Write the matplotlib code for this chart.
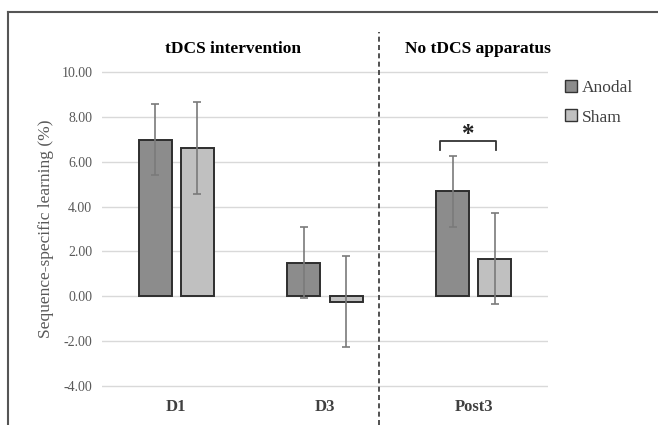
import numpy as np
import matplotlib
matplotlib.use('Agg')
import matplotlib.pyplot as plt
from matplotlib.lines import Line2D

plt.rcParams['font.family'] = ['Liberation Serif', 'DejaVu Serif']

# Data
categories = ['D1', 'D3', 'Post3']
anodal = [6.98, 1.50, 4.67]
anodal_err = [1.58, 1.58, 1.58]
sham = [6.60, -0.24, 1.68]
sham_err = [2.04, 2.03, 2.04]
yticks = [-4, -2, 0, 2, 4, 6, 8, 10]

anodal_color = '#8c8c8c'
sham_color = '#c0c0c0'

fig = plt.figure(figsize=(6.58, 4.25), dpi=100)
# plot area: y=10 at 72px, y=-4 at 386px; small margin so the outer gridlines show
ax = fig.add_axes([102 / 658, 1 - 388.2 / 425, 446 / 658, 318.5 / 425])

x = np.arange(len(categories))
w = 0.222
off = 0.142
err_kw = dict(ecolor='#7a7a7a', elinewidth=1.2, capsize=3, capthick=1.2)
ax.bar(x - off, anodal, w, color=anodal_color, edgecolor='#2e2e2e', linewidth=1.4,
       yerr=anodal_err, error_kw=err_kw, zorder=3)
ax.bar(x + off, sham, w, color=sham_color, edgecolor='#2e2e2e', linewidth=1.4,
       yerr=sham_err, error_kw=err_kw, zorder=3)

ax.set_xlim(-0.5, 2.5)
ax.set_ylim(-4.1, 10.1)
ax.set_yticks(yticks)
ax.set_yticklabels(['%.2f' % v for v in yticks])
ax.yaxis.grid(True, color='#d9d9d9', linewidth=1)
ax.set_axisbelow(True)
for s in ax.spines.values():
    s.set_visible(False)
ax.tick_params(axis='y', length=0, pad=7, labelsize=10, labelcolor='#595959')
ax.set_xticks([])

for i, c in enumerate(categories):
    ax.text(i, -0.058, c, transform=ax.get_xaxis_transform(), ha='center', va='center',
            fontsize=12, fontweight='bold', color='#404040')

ax.set_ylabel('Sequence-specific learning (%)', fontsize=12.5, color='#595959', labelpad=5)

# significance bracket
bx0, bx1, by = 1.773, 2.15, 6.93
ax.plot([bx0, bx0, bx1, bx1], [6.52, by, by, 6.52], color='#333333', lw=1.3, zorder=4)
ax.text((bx0 + bx1) / 2, 6.7, '*', ha='center', va='bottom', fontsize=18,
        fontweight='bold', color='#222222')

# dashed divider
ax.axvline(1.363, ymin=-0.116, ymax=1.118, color='#333333', lw=1.2,
           linestyle=(0, (3, 2)), clip_on=False)

# panel titles
fig.text(233 / 658, 1 - 49 / 425, 'tDCS intervention', ha='center', va='center',
         fontsize=12.5, fontweight='bold')
fig.text(478 / 658, 1 - 49 / 425, 'No tDCS apparatus', ha='center', va='center',
         fontsize=12.5, fontweight='bold')

# legend
handles = [Line2D([], [], marker='s', linestyle='none', markersize=8,
                  markerfacecolor=anodal_color, markeredgecolor='#333333'),
           Line2D([], [], marker='s', linestyle='none', markersize=8,
                  markerfacecolor=sham_color, markeredgecolor='#333333')]
fig.legend(handles, ['Anodal', 'Sham'], loc='upper left',
           bbox_to_anchor=(556 / 658, 1 - 71.5 / 425), frameon=False,
           fontsize=12.5, handlelength=0.7, handletextpad=0.3, labelspacing=0.75,
           borderpad=0, labelcolor='#404040')

# outer border (top and left only)
fig.add_artist(Line2D([8 / 658, 1], [1 - 12 / 425, 1 - 12 / 425],
                      transform=fig.transFigure, color='#555555', lw=1.5))
fig.add_artist(Line2D([8 / 658, 8 / 658], [0, 1 - 12 / 425],
                      transform=fig.transFigure, color='#555555', lw=1.5))

fig.savefig('out.png', dpi=100)
